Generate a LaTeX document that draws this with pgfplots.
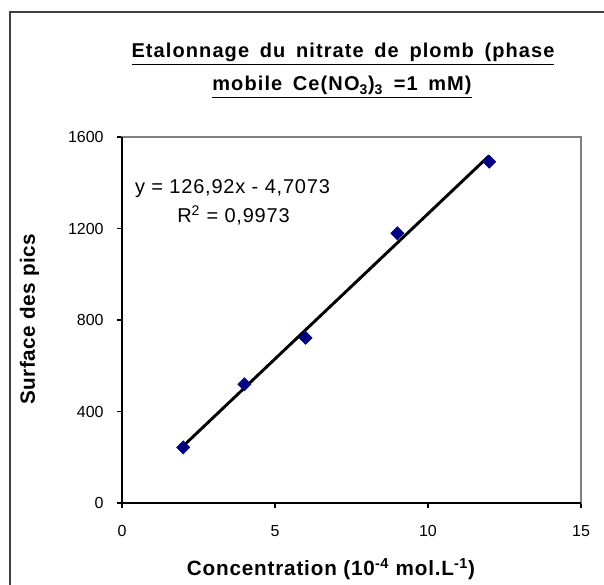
\documentclass[border=0pt]{standalone}
\usepackage{fontspec}
\setmainfont{Liberation Sans}
\newfontfamily\titlefont[LetterSpace=5.5,WordSpace=1.6]{Liberation Sans}
\usepackage{pgfplots}
\pgfplotsset{compat=1.18}
\definecolor{navyM}{HTML}{000080}
\begin{document}
\begin{tikzpicture}
\begin{scope}[x=0.75pt,y=-0.75pt]
\useasboundingbox (0,0) rectangle (604,585);
\draw[line width=1.1pt, black!75] (10,585) -- (10,12) -- (604,12);
\end{scope}
\begin{axis}[at={(91.5pt,-377.25pt)}, anchor=south west, scale only axis,
 width=344.25pt, height=274.5pt,
 xmin=0,xmax=15,ymin=0,ymax=1600,
 xtick={0,5,10,15}, ytick={0,400,800,1200,1600},
 axis line style={draw=black!50, line width=1.1pt},
 tick align=outside, xtick pos=left, ytick pos=left, major tick length=3.75pt,
 tick style={black, line width=0.8pt},
 ticklabel style={font=\fontsize{12}{14}\selectfont},
 xticklabel style={yshift=-9.5pt},
 yticklabel style={xshift=-6.5pt},
 /pgf/number format/assume math mode=true,
 scaled ticks=false, /pgf/number format/set thousands separator={},
 clip=false]
\draw[black, line width=1.1pt] (rel axis cs:0,1) -- (rel axis cs:0,0) -- (rel axis cs:1,0);
\addplot[only marks, mark=square*, mark size=3.5pt, mark options={rotate=45, fill=navyM, draw=navyM}]
 coordinates {(2,243) (4,519) (6,722) (9,1179) (12,1492)};
\addplot[black, line width=2.2pt] coordinates {(2,249.13) (12,1518.33)};
\end{axis}
\begin{scope}[x=0.75pt,y=-0.75pt]
\node[anchor=base, inner sep=0pt, font=\titlefont\fontsize{15}{18}\selectfont\bfseries] at (343,58) {\underline{Etalonnage du nitrate de plomb (phase\vphantom{y}}};
\node[anchor=base, inner sep=0pt, font=\titlefont\fontsize{15}{18}\selectfont\bfseries] at (342,91) {\underline{mobile Ce(NO\textsubscript{3})\textsubscript{3} =1 mM)}};
\node[anchor=base, inner sep=0pt, font=\fontsize{15}{18}\selectfont\addfontfeatures{LetterSpace=4}] at (232.5,193) {y = 126,92x - 4,7073};
\node[anchor=base, inner sep=0pt, font=\fontsize{15}{18}\selectfont\addfontfeatures{LetterSpace=4}] at (233.5,222) {R\textsuperscript{2} = 0,9973};
\node[anchor=base, inner sep=0pt, font=\fontsize{15.5}{18}\selectfont\bfseries\addfontfeatures{LetterSpace=4}] at (331,575) {Concentration (10\textsuperscript{-4} mol.L\textsuperscript{-1})};
\node[anchor=base, inner sep=0pt, rotate=90, font=\fontsize{15.5}{18}\selectfont\bfseries\addfontfeatures{LetterSpace=2.5}] at (35,319) {Surface des pics};
\end{scope}
\end{tikzpicture}
\end{document}
